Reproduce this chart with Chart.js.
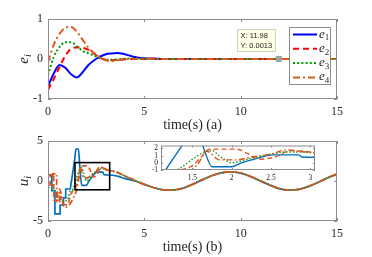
<!DOCTYPE html>
<html>
<head>
<meta charset="utf-8">
<script src="https://cdn.jsdelivr.net/npm/chart.js@4.4.0/dist/chart.umd.min.js"></script>
<style>
  body { margin: 0; background: #fff; }
  #wrap { position: relative; width: 372px; height: 257px; }
  canvas { position: absolute; }
</style>
</head>
<body>
<div id="wrap">
  <canvas id="top" width="372" height="136" style="left:0;top:0"></canvas>
  <canvas id="bot" width="372" height="129" style="left:0;top:128px"></canvas>
  <canvas id="ins" width="200" height="50" style="left:130px;top:138px"></canvas>
</div>
<script>
// ---- plot (a): errors e_i ----
var tA = [0, 0.3, 0.6, 0.9, 1.2, 1.5, 1.8, 2.1, 2.4, 2.7, 3.0, 3.3, 3.6, 3.9, 4.2, 4.5, 5.0, 5.5, 6, 7, 8, 9, 10, 11, 12, 13, 14, 15];
var e1 = [-0.68, -0.36, -0.15, -0.22, -0.38, -0.46, -0.33, -0.15, -0.03, 0.06, 0.12, 0.14, 0.15, 0.13, 0.09, 0.05, 0.02, 0.01, 0, 0, 0, 0, 0, 0, 0, 0, 0, 0];
var e2 = [-0.77, -0.5, -0.2, 0.08, 0.26, 0.29, 0.28, 0.23, 0.13, 0.03, -0.02, -0.03, -0.02, -0.01, 0, 0, 0, 0, 0, 0, 0, 0, 0, 0, 0, 0, 0, 0];
var e3 = [-0.4, 0.05, 0.3, 0.42, 0.42, 0.32, 0.2, 0.14, 0.08, 0.02, -0.02, -0.02, -0.01, 0, 0.01, 0.01, 0.01, 0, 0, 0, 0, 0, 0, 0, 0, 0, 0, 0];
var e4 = [-0.08, 0.36, 0.63, 0.78, 0.8, 0.68, 0.48, 0.28, 0.14, 0.05, -0.03, -0.05, -0.03, -0.01, 0, 0, 0.01, 0.01, 0, 0, 0, 0, 0, 0, 0, 0, 0, 0];
var eNames = ['1', '2', '3', '4'];
var tip = [11.98, 0.0013];

// ---- plot (b): inputs u_i (transient part, then the common tail) ----
var tU1 = [0, 0, 0.2, 0.2, 0.36, 0.36, 0.63, 0.63, 0.8, 0.8, 0.92, 0.92, 1.15, 1.2, 1.25, 1.3, 1.35, 1.4, 1.45, 1.58, 1.65, 1.75, 2.0, 2.12, 2.27, 2.53, 2.85, 2.9, 3.2, 3.6, 4.0, 4.5];
var u1 = [-0.9, 0.75, 0.75, -1.2, -1.2, -4.1, -4.1, -3.0, -3.0, -2.1, -2.1, -1.0, -1.0, -0.3, 0.5, 1.3, 2.1, 3.0, 4.0, 4.0, 1.8, -0.55, -0.55, 0.0, 0.45, 1.1, 1.1, 0.8, 0.75, 0.6, 0.3, 0.0];
var tU2 = [0, 0.12, 0.12, 0.3, 0.3, 0.5, 0.5, 0.75, 1.0, 1.2, 1.35, 1.5, 1.62, 1.72, 2.05, 2.2, 2.35, 2.55, 2.75, 2.9, 3.1];
var u2 = [-0.3, -0.3, 0.8, 0.8, -2.4, -2.4, -1.4, -2.7, -3.0, -1.6, -1.0, -0.4, 0.9, 1.9, 1.9, 1.3, 0.5, 0.8, 1.7, 1.6, 1.4];
var tU3 = [0, 0.2, 0.4, 0.6, 0.8, 1.0, 1.15, 1.3, 1.5, 1.65, 1.75, 1.85, 2.0, 2.2, 2.5, 2.7, 2.9, 3.1];
var u3 = [-0.8, -0.9, -1.5, -2.3, -2.5, -2.4, -1.3, -1.0, 0.5, 1.5, 1.7, 0.9, 0.0, 0.5, 1.2, 1.5, 1.5, 1.35];
var tU4 = [0, 0.25, 0.25, 0.45, 0.45, 0.6, 0.6, 0.85, 1.1, 1.3, 1.5, 1.58, 1.68, 1.85, 2.05, 2.25, 2.5, 2.7, 2.85, 3.1];
var u4 = [-0.5, -0.5, 0.9, 0.9, -2.6, -2.6, -1.0, -3.3, -3.0, -2.2, -1.0, 0.0, 1.6, 0.4, 0.4, 0.8, 1.2, 1.8, 1.6, 1.35];
var tTail = [3.5, 4, 4.5, 5, 5.5, 6, 6.5, 7, 7.5, 8, 8.5, 9, 9.5, 10, 10.5, 11, 11.5, 12, 12.5, 13, 13.5, 14, 14.5, 15];
var uTail = [1.15, 0.62, 0.08, -0.42, -0.84, -1.1, -1.12, -0.9, -0.42, 0.14, 0.66, 1.02, 1.15, 0.98, 0.58, 0.04, -0.5, -0.95, -1.14, -1.05, -0.7, -0.18, 0.38, 0.86];
var zoomBox = [1.4, 3.2, -1.1, 2.3];   // x0, x1, y0, y1 of the marked window

// ticks
var tTicks = [0, 5, 10, 15];
var eTicks = [-1, 0, 1];
var uTicks = [-5, 0, 5];
var insXTicks = [1.5, 2, 2.5, 3];
var insYTicks = [-1, 0, 1, 2];

var SERIF = "'Liberation Serif', 'DejaVu Serif', serif";
var SANS = "'Liberation Sans', 'DejaVu Sans', sans-serif";
var INK = '#262626';

function pts(t, v) {
  return t.map(function (x, i) { return {x: x, y: v[i]}; });
}
function withTail(t, v) {
  var last = t[t.length - 1];
  var p = pts(t, v);
  tTail.forEach(function (x, i) { if (x > last) p.push({x: x, y: uTail[i]}); });
  return p;
}

function axes(xr, xt, yr, yt, size, yw, xh, xpad, ypad) {
  var f = {family: SERIF, size: size};
  return {
    x: {
      type: 'linear', min: xr[0], max: xr[1],
      grid: {display: false, drawTicks: false}, border: {display: false},
      afterBuildTicks: function (s) { s.ticks = xt.map(function (v) { return {value: v}; }); },
      afterFit: function (s) { s.height = xh; },
      ticks: {font: f, color: INK, padding: xpad, maxRotation: 0, autoSkip: false,
              callback: function (v) { return String(v); }}
    },
    y: {
      type: 'linear', min: yr[0], max: yr[1],
      grid: {display: false, drawTicks: false}, border: {display: false},
      afterBuildTicks: function (s) { s.ticks = yt.map(function (v) { return {value: v}; }); },
      afterFit: function (s) { s.width = yw; },
      ticks: {font: f, color: INK, padding: ypad, autoSkip: false,
              callback: function (v) { return String(v); }}
    }
  };
}

// box round the axes with small inward ticks
function frame(xt, yt, len) {
  return {
    id: 'frame',
    afterDatasetsDraw: function (chart) {
      var a = chart.chartArea, c = chart.ctx, sx = chart.scales.x, sy = chart.scales.y;
      c.save();
      c.strokeStyle = '#8c8c8c';
      c.lineWidth = 1;
      c.strokeRect(a.left + 0.5, a.top + 0.5, a.right - a.left - 1, a.bottom - a.top - 1);
      c.beginPath();
      xt.forEach(function (v) {
        var px = Math.round(sx.getPixelForValue(v)) + 0.5;
        c.moveTo(px, a.bottom); c.lineTo(px, a.bottom - len);
        c.moveTo(px, a.top); c.lineTo(px, a.top + len);
      });
      yt.forEach(function (v) {
        var py = Math.round(sy.getPixelForValue(v)) + 0.5;
        c.moveTo(a.left, py); c.lineTo(a.left + len, py);
        c.moveTo(a.right, py); c.lineTo(a.right - len, py);
      });
      c.stroke();
      c.restore();
    }
  };
}

// italic base letter with a smaller subscript (upright digits, italic letters)
function subText(c, x, y, base, sub, size, align) {
  var subFont = (/[0-9]/.test(sub) ? '' : 'italic ') + Math.round(size * 0.68) + 'px ' + SERIF;
  c.font = 'italic ' + size + 'px ' + SERIF;
  var w1 = c.measureText(base).width;
  c.font = subFont;
  var w2 = c.measureText(sub).width;
  var x0 = align === 'center' ? x - (w1 + w2) / 2 : x;
  c.font = 'italic ' + size + 'px ' + SERIF;
  c.fillText(base, x0, y);
  c.font = subFont;
  c.fillText(sub, x0 + w1, y + size * 0.22);
}

// axis titles
function titles(xText, yBase, ySub) {
  return {
    id: 'titles',
    afterDraw: function (chart) {
      var a = chart.chartArea, c = chart.ctx;
      c.save();
      c.fillStyle = INK;
      c.font = '14px ' + SERIF;
      c.textAlign = 'center';
      c.textBaseline = 'middle';
      c.fillText(xText, (a.left + a.right) / 2, a.bottom + 26);
      c.translate(24, (a.top + a.bottom) / 2);
      c.rotate(-Math.PI / 2);
      c.textAlign = 'left';
      c.textBaseline = 'alphabetic';
      subText(c, 0, 4, yBase, ySub, 15, 'center');
      c.restore();
    }
  };
}

// legend box inside plot (a)
var legendBox = {
  id: 'legendBox',
  afterDraw: function (chart) {
    var a = chart.chartArea, c = chart.ctx;
    var left = a.right - 48, top = a.top + 8, w = 41, h = 57;
    c.save();
    c.fillStyle = '#fff';
    c.fillRect(left, top, w, h);
    c.strokeStyle = '#8c8c8c';
    c.lineWidth = 1;
    c.strokeRect(left + 0.5, top + 0.5, w, h);
    chart.data.datasets.forEach(function (ds, i) {
      var y = top + 7.5 + i * 14.3;
      c.strokeStyle = ds.borderColor;
      c.lineWidth = ds.borderWidth;
      c.setLineDash(ds.borderDash || []);
      c.beginPath();
      c.moveTo(left + 4, y); c.lineTo(left + 28, y);
      c.stroke();
      c.setLineDash([]);
      c.fillStyle = INK;
      c.textBaseline = 'alphabetic';
      subText(c, left + 30, y + 3, 'e', eNames[i], 13, 'left');
    });
    c.restore();
  }
};

// data tip on plot (a)
var dataTip = {
  id: 'dataTip',
  afterDraw: function (chart) {
    var c = chart.ctx, sx = chart.scales.x, sy = chart.scales.y;
    var px = sx.getPixelForValue(tip[0]), py = sy.getPixelForValue(tip[1]);
    c.save();
    c.fillStyle = '#a0a0a0';
    c.fillRect(px - 3, py - 3, 6, 6);
    var w = 38, h = 22, left = Math.round(px - 4 - w) + 0.5, top = Math.round(py - 8 - h) + 0.5;
    c.fillStyle = '#ffffe6';
    c.fillRect(left, top, w, h);
    c.strokeStyle = '#d0d0c0';
    c.strokeRect(left, top, w, h);
    c.fillStyle = '#222';
    c.font = '7.5px ' + SANS;
    c.textBaseline = 'middle';
    c.fillText('X: ' + tip[0], left + 3, top + 6);
    c.fillText('Y: ' + tip[1], left + 3, top + 16);
    c.restore();
  }
};

// the black window on plot (b)
var windowBox = {
  id: 'windowBox',
  afterDatasetsDraw: function (chart) {
    var c = chart.ctx, sx = chart.scales.x, sy = chart.scales.y;
    var x0 = sx.getPixelForValue(zoomBox[0]), x1 = sx.getPixelForValue(zoomBox[1]);
    var y0 = sy.getPixelForValue(zoomBox[3]), y1 = sy.getPixelForValue(zoomBox[2]);
    c.save();
    c.strokeStyle = '#000';
    c.lineWidth = 1.6;
    c.strokeRect(x0, y0, x1 - x0, y1 - y0);
    c.restore();
  }
};

var whiteArea = {
  id: 'whiteArea',
  beforeDraw: function (chart) {
    var a = chart.chartArea, c = chart.ctx;
    c.save();
    c.fillStyle = '#fff';
    c.fillRect(a.left, a.top, a.right - a.left, a.bottom - a.top);
    c.restore();
  }
};

function line(data, color, dash, width, order) {
  return {data: data, borderColor: color, borderDash: dash, borderWidth: width,
          pointRadius: 0, fill: false, order: order, cubicInterpolationMode: 'monotone'};
}

var base = {
  animation: false, responsive: false, devicePixelRatio: 1,
  plugins: {legend: {display: false}, tooltip: {enabled: false}}
};

// plot (a)
var topChart = new Chart(document.getElementById('top'), {
  type: 'line',
  data: {
    datasets: [
      line(pts(tA, e1), '#0000ff', [], 2, 3),
      line(pts(tA, e2), '#ff0000', [6, 4], 2, 2),
      line(pts(tA, e3), '#009e00', [2, 2.2], 2, 1),
      line(pts(tA, e4), '#e0581e', [7, 3, 2, 3], 2, 0)
    ]
  },
  options: Object.assign({}, base, {
    parsing: false,
    layout: {padding: {left: 0, right: 35, top: 19, bottom: 0}},
    scales: axes([0, 15], tTicks, [-1, 1], eTicks, 12, 48, 37, 6, 5)
  }),
  plugins: [frame(tTicks, eTicks, 3), titles('time(s) (a)', 'e', 'i'), legendBox, dataTip]
});

function uSets(w) {
  return [
    line(withTail(tU1, u1), '#0072bd', [], w, 3),
    line(withTail(tU2, u2), '#e4572b', [5, 3], w, 2),
    line(withTail(tU3, u3), '#2a9d2a', [1.6, 1.8], w, 1),
    line(withTail(tU4, u4), '#d95319', [6, 2.5, 1.6, 2.5], w, 0)
  ];
}

// plot (b)
var botChart = new Chart(document.getElementById('bot'), {
  type: 'line',
  data: {datasets: uSets(1.7)},
  options: Object.assign({}, base, {
    parsing: false,
    layout: {padding: {left: 0, right: 35, top: 13, bottom: 0}},
    scales: axes([0, 15], tTicks, [-5, 5], uTicks, 12, 48, 36, 6, 5)
  }),
  plugins: [frame(tTicks, uTicks, 3), titles('time(s) (b)', 'u', 'i'), windowBox]
});

// inset of plot (b)
var insChart = new Chart(document.getElementById('ins'), {
  type: 'line',
  data: {datasets: uSets(1.4)},
  options: Object.assign({}, base, {
    parsing: false,
    layout: {padding: {left: 0, right: 15, top: 6, bottom: 0}},
    scales: axes([1.1, 3.06], insXTicks, [-1, 2.4], insYTicks, 7.5, 31, 18, 4, 3)
  }),
  plugins: [whiteArea, frame(insXTicks, insYTicks, 2)]
});
</script>
</body>
</html>
